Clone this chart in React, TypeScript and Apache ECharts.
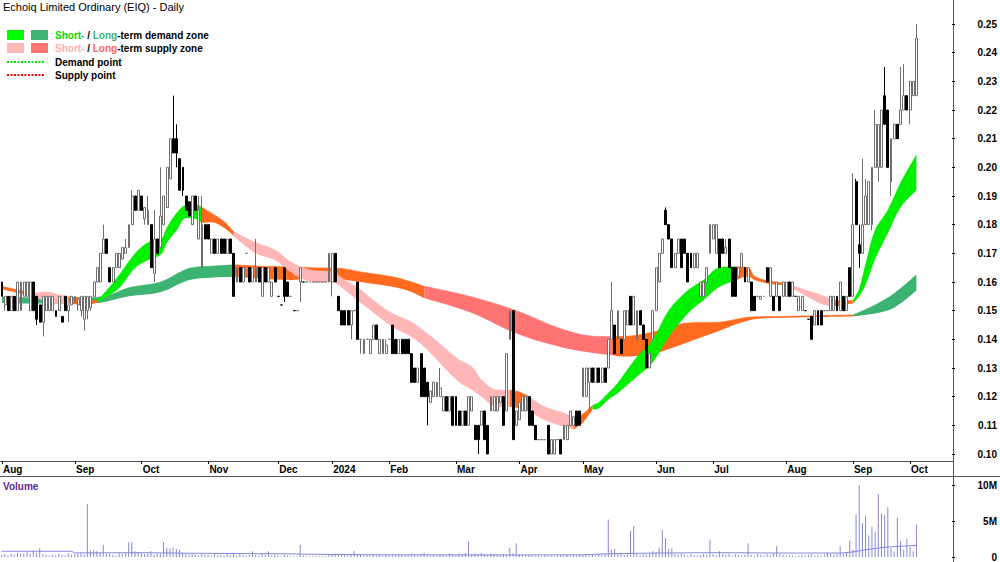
import React, { useEffect, useRef } from "react";
import * as echarts from "echarts";

// ---------- DATA ----------
const monthLabels = ["Aug", "Sep", "Oct", "Nov", "Dec", "2024", "Feb", "Mar", "Apr", "May", "Jun", "Jul", "Aug", "Sep", "Oct"];

// [open, close, low, high]
const candlesAug23 = [
  [0.160, 0.155, 0.155, 0.160], [0.152, 0.155, 0.150, 0.155], [0.155, 0.150, 0.150, 0.155], [0.150, 0.155, 0.150, 0.155],
  [0.155, 0.150, 0.150, 0.155], [0.150, 0.160, 0.150, 0.160], [0.150, 0.160, 0.150, 0.160], [0.155, 0.160, 0.155, 0.160],
  [0.155, 0.160, 0.155, 0.160], [0.150, 0.160, 0.150, 0.160], [0.160, 0.150, 0.150, 0.160], [0.155, 0.147, 0.145, 0.155],
  [0.152, 0.146, 0.146, 0.152], [0.146, 0.155, 0.141, 0.155], [0.150, 0.155, 0.150, 0.155], [0.150, 0.155, 0.150, 0.155],
  [0.150, 0.155, 0.150, 0.155], [0.150, 0.148, 0.148, 0.150], [0.150, 0.155, 0.150, 0.155], [0.148, 0.146, 0.146, 0.148],
  [0.155, 0.150, 0.150, 0.155], [0.150, 0.152, 0.146, 0.152], [0.152, 0.155, 0.152, 0.155],
];
const candlesSep23 = [
  [0.153, 0.155, 0.153, 0.155], [0.152, 0.154, 0.150, 0.154], [0.150, 0.155, 0.148, 0.155], [0.147, 0.155, 0.143, 0.155],
  [0.150, 0.155, 0.147, 0.155], [0.151, 0.155, 0.150, 0.155], [0.155, 0.160, 0.155, 0.160], [0.160, 0.165, 0.160, 0.165],
  [0.160, 0.170, 0.160, 0.170], [0.170, 0.175, 0.170, 0.180], [0.175, 0.170, 0.170, 0.175], [0.165, 0.160, 0.160, 0.165],
  [0.160, 0.165, 0.160, 0.165], [0.165, 0.170, 0.165, 0.170], [0.165, 0.170, 0.165, 0.170], [0.168, 0.172, 0.168, 0.172],
  [0.170, 0.172, 0.170, 0.175], [0.172, 0.180, 0.172, 0.180], [0.180, 0.190, 0.180, 0.192], [0.190, 0.185, 0.185, 0.190],
  [0.185, 0.192, 0.185, 0.192],
];
const candlesOct23 = [
  [0.190, 0.185, 0.185, 0.190], [0.182, 0.186, 0.180, 0.186], [0.180, 0.185, 0.180, 0.190], [0.180, 0.165, 0.165, 0.180],
  [0.163, 0.175, 0.160, 0.185], [0.175, 0.170, 0.170, 0.175], [0.172, 0.183, 0.172, 0.200], [0.180, 0.190, 0.180, 0.190],
  [0.186, 0.200, 0.186, 0.200], [0.196, 0.210, 0.196, 0.210], [0.210, 0.205, 0.205, 0.225], [0.210, 0.205, 0.200, 0.215],
  [0.203, 0.192, 0.192, 0.203], [0.200, 0.192, 0.190, 0.200], [0.190, 0.185, 0.185, 0.190], [0.188, 0.183, 0.183, 0.188],
  [0.180, 0.190, 0.180, 0.190], [0.190, 0.185, 0.185, 0.190], [0.175, 0.185, 0.175, 0.190], [0.165, 0.180, 0.165, 0.190],
  [0.180, 0.175, 0.175, 0.180],
];
const candlesNov23 = [
  [0.180, 0.175, 0.175, 0.180], [0.170, 0.175, 0.170, 0.175], [0.175, 0.170, 0.170, 0.175], [0.170, 0.175, 0.170, 0.175],
  [0.175, 0.170, 0.170, 0.175], [0.175, 0.170, 0.170, 0.175], [0.170, 0.175, 0.170, 0.175], [0.175, 0.170, 0.170, 0.175],
  [0.170, 0.155, 0.155, 0.170], [0.160, 0.165, 0.160, 0.165], [0.165, 0.160, 0.160, 0.165], [0.160, 0.165, 0.160, 0.165],
  [0.170, 0.170, 0.170, 0.170], [0.165, 0.160, 0.160, 0.165], [0.160, 0.165, 0.160, 0.165], [0.160, 0.165, 0.160, 0.175],
  [0.165, 0.160, 0.160, 0.165], [0.155, 0.165, 0.155, 0.165], [0.165, 0.160, 0.160, 0.165], [0.160, 0.165, 0.160, 0.165],
  [0.155, 0.160, 0.155, 0.160], [0.165, 0.160, 0.160, 0.165],
];
const candlesDec23 = [
  [0.155, 0.155, 0.155, 0.155], [0.152, 0.152, 0.152, 0.152], [0.165, 0.155, 0.153, 0.165], [0.160, 0.155, 0.155, 0.160],
  [0.155, 0.155, 0.155, 0.155], [0.150, 0.150, 0.150, 0.150], [0.150, 0.150, 0.150, 0.150], [0.160, 0.165, 0.153, 0.165],
  [0.160, 0.160, 0.160, 0.160], [0.160, 0.160, 0.160, 0.160], [0.160, 0.160, 0.160, 0.160], [0.160, 0.160, 0.160, 0.160],
  [0.160, 0.160, 0.160, 0.160], [0.160, 0.160, 0.160, 0.160], [0.160, 0.160, 0.160, 0.160], [0.160, 0.160, 0.160, 0.160],
  [0.160, 0.170, 0.160, 0.170],
];
const candlesJan24 = [
  [0.160, 0.170, 0.155, 0.170], [0.170, 0.160, 0.160, 0.170], [0.155, 0.150, 0.150, 0.155], [0.150, 0.145, 0.145, 0.150],
  [0.150, 0.145, 0.145, 0.150], [0.150, 0.145, 0.145, 0.150], [0.145, 0.150, 0.140, 0.150], [0.150, 0.150, 0.150, 0.150],
  [0.160, 0.140, 0.140, 0.160], [0.140, 0.140, 0.135, 0.140], [0.135, 0.140, 0.135, 0.140], [0.140, 0.140, 0.140, 0.140],
  [0.135, 0.140, 0.135, 0.140], [0.140, 0.145, 0.140, 0.145], [0.145, 0.140, 0.140, 0.145], [0.135, 0.140, 0.135, 0.140],
  [0.135, 0.140, 0.135, 0.140], [0.135, 0.138, 0.135, 0.140],
];
const candlesFeb24 = [
  [0.140, 0.140, 0.140, 0.140], [0.145, 0.135, 0.135, 0.145], [0.140, 0.135, 0.135, 0.140], [0.135, 0.140, 0.135, 0.140],
  [0.140, 0.135, 0.135, 0.140], [0.140, 0.135, 0.135, 0.140], [0.140, 0.135, 0.135, 0.140], [0.135, 0.125, 0.125, 0.135],
  [0.130, 0.125, 0.125, 0.130], [0.125, 0.130, 0.125, 0.130], [0.135, 0.120, 0.120, 0.135], [0.130, 0.120, 0.120, 0.130],
  [0.125, 0.120, 0.110, 0.125], [0.118, 0.122, 0.118, 0.122], [0.120, 0.125, 0.120, 0.125], [0.120, 0.125, 0.120, 0.125],
  [0.120, 0.123, 0.120, 0.130], [0.115, 0.120, 0.115, 0.120], [0.120, 0.115, 0.115, 0.120], [0.115, 0.120, 0.115, 0.120],
  [0.120, 0.110, 0.110, 0.120],
];
const candlesMar24 = [
  [0.120, 0.110, 0.110, 0.120], [0.115, 0.110, 0.110, 0.115], [0.110, 0.115, 0.110, 0.115], [0.115, 0.110, 0.110, 0.115],
  [0.110, 0.120, 0.110, 0.120], [0.115, 0.120, 0.115, 0.120], [0.110, 0.105, 0.105, 0.110], [0.110, 0.105, 0.100, 0.110],
  [0.110, 0.115, 0.110, 0.115], [0.115, 0.105, 0.105, 0.115], [0.110, 0.100, 0.100, 0.110], [0.115, 0.120, 0.115, 0.120],
  [0.115, 0.120, 0.115, 0.120], [0.115, 0.120, 0.115, 0.120], [0.118, 0.120, 0.118, 0.120], [0.120, 0.110, 0.110, 0.120],
  [0.115, 0.135, 0.115, 0.135], [0.140, 0.150, 0.140, 0.150], [0.150, 0.105, 0.105, 0.150], [0.110, 0.115, 0.110, 0.115],
];
const candlesApr24 = [
  [0.112, 0.118, 0.112, 0.118], [0.115, 0.120, 0.115, 0.120], [0.115, 0.120, 0.115, 0.120], [0.120, 0.110, 0.110, 0.120],
  [0.115, 0.110, 0.110, 0.115], [0.110, 0.105, 0.105, 0.110], [0.105, 0.105, 0.105, 0.105], [0.105, 0.105, 0.105, 0.105],
  [0.105, 0.105, 0.105, 0.105], [0.110, 0.100, 0.100, 0.110], [0.100, 0.105, 0.100, 0.105], [0.100, 0.105, 0.100, 0.105],
  [0.105, 0.105, 0.105, 0.105], [0.105, 0.100, 0.100, 0.105], [0.105, 0.110, 0.105, 0.110], [0.105, 0.110, 0.105, 0.110],
  [0.110, 0.115, 0.110, 0.115], [0.110, 0.113, 0.110, 0.113], [0.115, 0.110, 0.110, 0.115], [0.115, 0.110, 0.110, 0.115],
];
const candlesMay24 = [
  [0.120, 0.130, 0.120, 0.130], [0.120, 0.130, 0.120, 0.130], [0.125, 0.130, 0.115, 0.130], [0.130, 0.125, 0.125, 0.130],
  [0.125, 0.130, 0.125, 0.130], [0.130, 0.125, 0.125, 0.130], [0.125, 0.130, 0.125, 0.130], [0.130, 0.125, 0.125, 0.130],
  [0.130, 0.140, 0.130, 0.140], [0.140, 0.150, 0.140, 0.160], [0.145, 0.135, 0.135, 0.145], [0.140, 0.150, 0.140, 0.150],
  [0.140, 0.135, 0.135, 0.140], [0.140, 0.150, 0.140, 0.150], [0.145, 0.150, 0.145, 0.150], [0.155, 0.145, 0.145, 0.155],
  [0.145, 0.155, 0.145, 0.155], [0.140, 0.150, 0.140, 0.150], [0.150, 0.145, 0.145, 0.150], [0.145, 0.140, 0.140, 0.145],
  [0.140, 0.130, 0.130, 0.140], [0.130, 0.135, 0.130, 0.135], [0.140, 0.150, 0.140, 0.150],
];
const candlesJun24 = [
  [0.150, 0.165, 0.150, 0.165], [0.160, 0.170, 0.160, 0.170], [0.170, 0.175, 0.170, 0.175], [0.185, 0.180, 0.180, 0.186],
  [0.180, 0.175, 0.175, 0.180], [0.175, 0.165, 0.165, 0.175], [0.165, 0.170, 0.165, 0.170], [0.170, 0.175, 0.170, 0.175],
  [0.175, 0.165, 0.165, 0.175], [0.175, 0.170, 0.170, 0.175], [0.170, 0.160, 0.160, 0.170], [0.170, 0.165, 0.165, 0.170],
  [0.165, 0.170, 0.165, 0.170], [0.165, 0.170, 0.165, 0.170], [0.155, 0.160, 0.155, 0.160], [0.155, 0.160, 0.155, 0.160],
  [0.160, 0.165, 0.160, 0.165], [0.170, 0.180, 0.170, 0.180],
];
const candlesJul24 = [
  [0.175, 0.180, 0.175, 0.180], [0.170, 0.180, 0.170, 0.180], [0.175, 0.165, 0.165, 0.175], [0.175, 0.170, 0.170, 0.175],
  [0.170, 0.172, 0.170, 0.175], [0.175, 0.165, 0.165, 0.175], [0.165, 0.155, 0.155, 0.165], [0.165, 0.155, 0.155, 0.165],
  [0.162, 0.165, 0.162, 0.165], [0.165, 0.170, 0.165, 0.170], [0.165, 0.160, 0.160, 0.165], [0.160, 0.165, 0.160, 0.165],
  [0.160, 0.150, 0.150, 0.160], [0.155, 0.150, 0.150, 0.155], [0.155, 0.155, 0.155, 0.155], [0.154, 0.155, 0.154, 0.155],
  [0.155, 0.155, 0.155, 0.155], [0.165, 0.160, 0.160, 0.165], [0.155, 0.165, 0.155, 0.165], [0.155, 0.150, 0.150, 0.155],
  [0.155, 0.160, 0.155, 0.160], [0.155, 0.150, 0.150, 0.155], [0.155, 0.160, 0.155, 0.160],
];
const candlesAug24 = [
  [0.155, 0.160, 0.155, 0.160], [0.160, 0.155, 0.155, 0.160], [0.155, 0.160, 0.155, 0.160], [0.155, 0.155, 0.155, 0.155],
  [0.150, 0.155, 0.150, 0.155], [0.150, 0.155, 0.150, 0.155], [0.150, 0.150, 0.150, 0.150], [0.147, 0.147, 0.147, 0.147],
  [0.148, 0.140, 0.140, 0.148], [0.145, 0.150, 0.145, 0.150], [0.150, 0.145, 0.145, 0.150], [0.150, 0.145, 0.145, 0.150],
  [0.150, 0.150, 0.150, 0.150], [0.150, 0.150, 0.150, 0.150], [0.150, 0.155, 0.150, 0.155], [0.150, 0.155, 0.150, 0.155],
  [0.155, 0.150, 0.150, 0.155], [0.150, 0.160, 0.150, 0.160], [0.155, 0.150, 0.150, 0.155], [0.150, 0.155, 0.150, 0.155],
  [0.165, 0.155, 0.155, 0.165],
];
const candlesSep24 = [
  [0.155, 0.180, 0.155, 0.198], [0.195, 0.180, 0.180, 0.196], [0.173, 0.170, 0.165, 0.180], [0.170, 0.180, 0.170, 0.203],
  [0.180, 0.190, 0.180, 0.196], [0.180, 0.195, 0.180, 0.195], [0.180, 0.200, 0.178, 0.200], [0.200, 0.215, 0.200, 0.220],
  [0.200, 0.215, 0.195, 0.215], [0.200, 0.220, 0.200, 0.220], [0.225, 0.215, 0.215, 0.235], [0.220, 0.200, 0.200, 0.220],
  [0.195, 0.210, 0.190, 0.210], [0.210, 0.215, 0.210, 0.215], [0.215, 0.210, 0.210, 0.215], [0.215, 0.220, 0.215, 0.235],
  [0.220, 0.225, 0.220, 0.236], [0.225, 0.220, 0.220, 0.225],
];
const candlesOct24 = [
  [0.220, 0.230, 0.215, 0.230], [0.225, 0.230, 0.225, 0.230], [0.225, 0.245, 0.225, 0.250],
];

// volume in millions of shares, per session
const volAug23 = [0.3, 0.4, 0.2, 0.5, 0.3, 0.6, 0.4, 0.5, 0.7, 0.5, 0.9, 0.6, 1.2, 0.4, 0.3, 0.2, 0.3, 0.2, 0.4, 0.3, 0.2, 0.5, 0.3];
const volSep23 = [0.4, 0.5, 0.6, 0.3, 7.4, 0.9, 1.0, 0.8, 0.6, 1.7, 0.5, 0.4, 0.3, 0.2, 0.6, 0.4, 0.5, 2.0, 2.1, 0.8, 0.6];
const volOct23 = [0.6, 0.4, 0.5, 0.8, 0.3, 0.5, 0.4, 2.1, 1.3, 1.2, 1.3, 1.1, 1.0, 0.6, 0.4, 0.3, 0.5, 0.3, 0.2, 0.4, 0.3];
const volNov23 = [0.3, 0.2, 0.4, 0.2, 0.3, 0.2, 0.5, 0.3, 0.6, 0.2, 0.4, 0.3, 0.2, 0.3, 0.8, 0.3, 0.2, 0.4, 0.3, 0.8, 0.2, 0.3];
const volDec23 = [0.2, 0.1, 0.3, 0.2, 0.1, 0.1, 0.1, 1.7, 0.2, 0.1, 0.1, 0.1, 0.1, 0.1, 0.1, 0.1, 0.3];
const volJan24 = [0.4, 0.5, 0.3, 0.4, 0.3, 0.2, 0.3, 0.8, 0.3, 0.4, 0.2, 0.3, 0.2, 0.3, 0.2, 0.4, 0.2, 0.3];
const volFeb24 = [0.2, 0.3, 0.2, 0.4, 0.3, 0.2, 0.3, 0.5, 0.3, 0.2, 0.4, 0.6, 0.3, 0.2, 0.3, 0.2, 0.4, 0.3, 0.2, 0.5, 0.3];
const volMar24 = [0.3, 0.5, 0.4, 0.6, 2.2, 0.4, 0.5, 0.3, 0.6, 0.4, 0.3, 0.5, 0.4, 0.3, 0.2, 0.4, 0.3, 1.3, 0.5, 1.9];
const volApr24 = [0.4, 0.3, 0.2, 0.3, 0.2, 0.1, 0.2, 0.1, 0.3, 0.2, 0.2, 0.1, 0.2, 0.3, 0.2, 0.3, 0.2, 0.3, 0.2, 0.4];
const volMay24 = [0.3, 0.4, 0.2, 0.3, 0.2, 0.4, 0.3, 0.5, 5.2, 1.0, 1.1, 0.4, 0.6, 0.3, 0.5, 3.6, 4.3, 0.5, 0.3, 0.4, 0.3, 0.5, 0.8];
const volJun24 = [0.6, 1.2, 3.8, 2.6, 1.1, 1.2, 0.4, 0.3, 0.5, 0.3, 0.2, 0.4, 0.3, 0.2, 0.3, 0.4, 0.3, 2.4];
const volJul24 = [0.4, 0.3, 0.8, 0.4, 0.3, 0.5, 0.2, 0.4, 0.3, 0.2, 0.3, 1.9, 0.3, 0.2, 0.4, 0.3, 0.2, 0.4, 0.3, 0.5, 1.5, 0.4, 0.3];
const volAug24 = [0.2, 0.3, 0.2, 0.1, 0.2, 0.3, 0.2, 0.3, 0.4, 0.2, 0.3, 0.2, 0.3, 0.6, 0.4, 0.3, 0.5, 1.5, 0.4, 0.6, 2.3];
const volSep24 = [1.0, 5.9, 10.0, 4.7, 5.7, 3.0, 4.2, 3.5, 8.8, 6.0, 5.8, 6.9, 1.2, 0.8, 5.4, 2.2, 1.0, 2.5];
const volOct24 = [1.4, 0.8, 4.5];

// volume average (session index, millions)
const volumeAverage = [
  [0, 0.8], [22, 0.8], [23, 0.57], [44, 0.6], [65, 0.5], [87, 0.45], [104, 0.35], [122, 0.3], [163, 0.28],
  [183, 0.3], [191, 0.45], [206, 0.55], [224, 0.6], [247, 0.55], [264, 0.55], [268, 0.7], [272, 1.0],
  [277, 1.3], [283, 1.5], [288, 1.6],
];

// zones: [session index, lower, upper]
const shortTermZones = [
  { kind: "neutral", pts: [[0, 0.1575, 0.1585], [5, 0.1562, 0.1572], [10, 0.155, 0.156]] },
  { kind: "supply", pts: [[10, 0.155, 0.156], [14, 0.153, 0.1565], [18, 0.1525, 0.1555], [21, 0.1525, 0.155]] },
  { kind: "neutral", pts: [[21, 0.1525, 0.155], [26, 0.152, 0.154], [30, 0.1528, 0.1535]] },
  { kind: "demand", pts: [[30, 0.1528, 0.1535], [33, 0.1548, 0.157], [37, 0.158, 0.1625], [42, 0.165, 0.17], [46, 0.1677, 0.1737], [50, 0.1695, 0.1747], [52, 0.1737, 0.179], [55, 0.178, 0.184], [58, 0.1823, 0.1868], [61, 0.182, 0.187], [63, 0.1806, 0.186]] },
  { kind: "neutral", pts: [[63, 0.1806, 0.186], [66, 0.1808, 0.184], [70, 0.1788, 0.181], [73, 0.176, 0.1775]] },
  { kind: "supply", pts: [[73, 0.176, 0.1775], [80, 0.17, 0.1737], [86, 0.1677, 0.1712], [90, 0.1642, 0.1677], [94, 0.1614, 0.1653], [98, 0.16, 0.164], [104, 0.16, 0.1635], [107, 0.158, 0.1614], [113, 0.1527, 0.1572], [118, 0.1485, 0.1527], [123, 0.1443, 0.149], [129, 0.1408, 0.146], [134, 0.1363, 0.142], [139, 0.1304, 0.1374], [144, 0.125, 0.1328], [148, 0.1223, 0.1304], [151, 0.12, 0.1258], [156, 0.1164, 0.1223], [160, 0.1165, 0.1223]] },
  { kind: "neutral", pts: [[160, 0.1165, 0.1223], [163, 0.116, 0.1216], [166, 0.115, 0.12]] },
  { kind: "supply", pts: [[166, 0.115, 0.12], [171, 0.1118, 0.1164], [177, 0.1095, 0.1143], [180, 0.1085, 0.1125]] },
  { kind: "neutral", pts: [[180, 0.1085, 0.1125], [183, 0.111, 0.114], [186, 0.1155, 0.117]] },
  { kind: "demand", pts: [[186, 0.1155, 0.117], [188, 0.116, 0.118], [191, 0.119, 0.1213], [194, 0.1213, 0.1248], [200, 0.127, 0.1338], [205, 0.132, 0.1398], [210, 0.1408, 0.15], [216, 0.149, 0.157], [221, 0.1537, 0.1607], [226, 0.1583, 0.165], [231, 0.1605, 0.1653]] },
  { kind: "neutral", pts: [[231, 0.1605, 0.1653], [235, 0.162, 0.165], [237, 0.1607, 0.162], [241, 0.1595, 0.1605], [247, 0.1588, 0.1595]] },
  { kind: "supply", pts: [[247, 0.1588, 0.1595], [251, 0.1565, 0.158], [255, 0.154, 0.1565], [259, 0.152, 0.155], [262, 0.1515, 0.1537]] },
  { kind: "neutral", pts: [[262, 0.1515, 0.1537], [265, 0.152, 0.1535], [268, 0.1525, 0.1535]] },
  { kind: "demand", pts: [[268, 0.1525, 0.1535], [270, 0.155, 0.1575], [272, 0.159, 0.166], [275, 0.168, 0.178], [279, 0.177, 0.185], [283, 0.186, 0.1945], [288, 0.192, 0.2043]] },
];
const longTermZones = [
  { kind: "demand", pts: [[0, 0.1527, 0.1548], [11, 0.1525, 0.1545], [30, 0.1527, 0.1547], [34, 0.1535, 0.1555], [40, 0.155, 0.158], [50, 0.1565, 0.16], [59, 0.1607, 0.1648], [66, 0.1615, 0.1655], [73, 0.1618, 0.166]] },
  { kind: "neutral", pts: [[73, 0.1618, 0.166], [82, 0.1612, 0.1655], [91, 0.1607, 0.1653], [97, 0.1615, 0.165], [106, 0.161, 0.1648], [113, 0.16, 0.1635], [123, 0.1583, 0.1618], [129, 0.1565, 0.16], [133, 0.1543, 0.1585]] },
  { kind: "supply", pts: [[133, 0.1543, 0.1585], [148, 0.1492, 0.1548], [162, 0.142, 0.15], [177, 0.137, 0.1433], [188, 0.135, 0.141], [192, 0.1345, 0.141]] },
  { kind: "neutral", pts: [[192, 0.1345, 0.141], [195, 0.134, 0.141], [205, 0.135, 0.1425], [216, 0.139, 0.1457], [226, 0.143, 0.146], [236, 0.1468, 0.1478], [245, 0.1475, 0.148], [268, 0.148, 0.1485]] },
  { kind: "demand", pts: [[268, 0.148, 0.1485], [275, 0.149, 0.152], [281, 0.151, 0.156], [288, 0.157, 0.1625]] },
];

// ---------- STYLE ----------
const FONT = 'Arial, "Liberation Sans", sans-serif';
const zoneColors: Record<string, Record<string, string>> = {
  st: { demand: "#00f000", supply: "#ffb6b6", neutral: "#ff6a1f" },
  lt: { demand: "#3cb371", supply: "#ff7373", neutral: "#ff6a1f" },
};
const VOL_COLOR = "#8787d8";

const monthCandles = [candlesAug23, candlesSep23, candlesOct23, candlesNov23, candlesDec23, candlesJan24, candlesFeb24, candlesMar24, candlesApr24, candlesMay24, candlesJun24, candlesJul24, candlesAug24, candlesSep24, candlesOct24];
const monthVolumes = [volAug23, volSep23, volOct23, volNov23, volDec23, volJan24, volFeb24, volMar24, volApr24, volMay24, volJun24, volJul24, volAug24, volSep24, volOct24];

function buildOption() {
  const categories: string[] = [];
  const labelAt: Record<number, string> = {};
  const candles: number[][] = [];
  const volumes: number[] = [];
  monthCandles.forEach((arr, mi) => {
    arr.forEach((c, k) => {
      if (k === 0) labelAt[categories.length] = monthLabels[mi];
      categories.push(`${mi}-${k}`);
      candles.push(c);
      volumes.push(monthVolumes[mi][k] ?? 0);
    });
  });
  const isMonthStart = (i: number) => labelAt[i] !== undefined;

  const bandSeries: any[] = [];
  const addBands = (zones: any[], key: string, z: number) => {
    zones.forEach((zone, i) => {
      const color = zoneColors[key][zone.kind];
      const stack = `${key}${i}`;
      bandSeries.push({
        type: "line", xAxisIndex: 0, yAxisIndex: 0, stack, z, silent: true, smooth: 0.35,
        symbol: "none", lineStyle: { width: 0, opacity: 0 },
        data: zone.pts.map((p: number[]) => [p[0], p[1]]),
      });
      bandSeries.push({
        type: "line", xAxisIndex: 0, yAxisIndex: 0, stack, z, silent: true, smooth: 0.35,
        symbol: "none", lineStyle: { width: 0.6, color },
        areaStyle: { color, opacity: 1 },
        data: zone.pts.map((p: number[]) => [p[0], +(p[2] - p[1]).toFixed(5)]),
      });
    });
  };
  addBands(longTermZones, "lt", 1);
  addBands(shortTermZones, "st", 2);

  const axisText = { fontFamily: FONT, fontSize: 10, fontWeight: "bold" as const, color: "#000" };

  return {
    animation: false,
    backgroundColor: "#ffffff",
    grid: [
      { left: 0, top: 24, width: 919, height: 430 },
      { left: 0, top: 485, width: 919, height: 76 },
    ],
    xAxis: [
      {
        type: "category", gridIndex: 0, data: categories, boundaryGap: true, position: "bottom", offset: 7,
        axisLine: { show: false },
        axisTick: { show: true, interval: (i: number) => isMonthStart(i), alignWithLabel: true, length: 3, lineStyle: { color: "#000" } },
        axisLabel: { ...axisText, interval: (i: number) => isMonthStart(i), formatter: (_v: string, i: number) => labelAt[i] ?? "", align: "left", margin: 3, padding: [0, 0, 0, 1] },
        splitLine: { show: false },
      },
      {
        type: "category", gridIndex: 1, data: categories, boundaryGap: true,
        axisLine: { show: false }, axisTick: { show: false }, axisLabel: { show: false }, splitLine: { show: false },
      },
    ],
    yAxis: [
      {
        type: "value", gridIndex: 0, position: "right", offset: 34, min: 0.1, max: 0.25, interval: 0.01,
        axisLine: { show: false },
        axisTick: { show: true, length: 3, lineStyle: { color: "#000" } },
        axisLabel: { ...axisText, align: "right", margin: 45, formatter: (v: number) => v.toFixed(2) },
        splitLine: { show: false },
      },
      {
        type: "value", gridIndex: 1, position: "right", offset: 34, min: 0, max: 10, interval: 5,
        axisLine: { show: false },
        axisTick: { show: true, length: 3, lineStyle: { color: "#000" } },
        axisLabel: { ...axisText, align: "right", margin: 45, formatter: (v: number) => (v === 0 ? "0" : `${v}M`) },
        splitLine: { show: false },
      },
    ],
    series: [
      ...bandSeries,
      {
        type: "candlestick", xAxisIndex: 0, yAxisIndex: 0, z: 5, barWidth: 2.4, clip: false, silent: true,
        itemStyle: { color: "#ffffff", color0: "#000000", borderColor: "#6f6f6f", borderColor0: "#000000", borderWidth: 1 },
        data: candles,
      },
      {
        type: "bar", xAxisIndex: 1, yAxisIndex: 1, barWidth: 1, silent: true,
        itemStyle: { color: VOL_COLOR }, data: volumes,
      },
      {
        type: "line", xAxisIndex: 1, yAxisIndex: 1, silent: true, symbol: "none",
        lineStyle: { color: VOL_COLOR, width: 1 }, data: volumeAverage,
      },
    ],
    graphic: {
      elements: [
        { type: "line", shape: { x1: 953.5, y1: 0, x2: 953.5, y2: 562 }, style: { stroke: "#555", lineWidth: 1 }, silent: true },
        { type: "line", shape: { x1: 0, y1: 461.5, x2: 953.5, y2: 461.5 }, style: { stroke: "#555", lineWidth: 1 }, silent: true },
        { type: "line", shape: { x1: 0, y1: 476.5, x2: 1000, y2: 476.5 }, style: { stroke: "#555", lineWidth: 1 }, silent: true },
        { type: "text", x: 3, y: 1, style: { text: "Echoiq Limited Ordinary (EIQ) - Daily", font: `11px ${FONT}`, fill: "#000", verticalAlign: "top" }, silent: true },
        { type: "rect", shape: { x: 7, y: 30, width: 17, height: 10 }, style: { fill: "#00ff00" }, silent: true },
        { type: "rect", shape: { x: 31, y: 30, width: 17, height: 10 }, style: { fill: "#3cb371" }, silent: true },
        { type: "rect", shape: { x: 7, y: 43, width: 17, height: 10 }, style: { fill: "#ffb6b6" }, silent: true },
        { type: "rect", shape: { x: 31, y: 43, width: 17, height: 10 }, style: { fill: "#ff7373" }, silent: true },
        {
          type: "text", x: 55, y: 35, silent: true,
          style: {
            text: "{a|Short-}{k| / }{b|Long}{k|-term demand zone}", verticalAlign: "middle", font: `bold 10px ${FONT}`,
            rich: {
              a: { fill: "#00dd00", font: `bold 10px ${FONT}` },
              b: { fill: "#3cb371", font: `bold 10px ${FONT}` },
              k: { fill: "#000", font: `bold 10px ${FONT}` },
            },
          },
        },
        {
          type: "text", x: 55, y: 48, silent: true,
          style: {
            text: "{a|Short-}{k| / }{b|Long}{k|-term supply zone}", verticalAlign: "middle", font: `bold 10px ${FONT}`,
            rich: {
              a: { fill: "#ffb0b0", font: `bold 10px ${FONT}` },
              b: { fill: "#ff6464", font: `bold 10px ${FONT}` },
              k: { fill: "#000", font: `bold 10px ${FONT}` },
            },
          },
        },
        { type: "line", shape: { x1: 7, y1: 62, x2: 45, y2: 62 }, style: { stroke: "#00e000", lineWidth: 2, lineDash: [2, 1.5] }, silent: true },
        { type: "line", shape: { x1: 7, y1: 75, x2: 45, y2: 75 }, style: { stroke: "#ff0000", lineWidth: 2, lineDash: [2, 1.5] }, silent: true },
        { type: "text", x: 55, y: 62, style: { text: "Demand point", font: `bold 10px ${FONT}`, fill: "#000", verticalAlign: "middle" }, silent: true },
        { type: "text", x: 55, y: 75, style: { text: "Supply point", font: `bold 10px ${FONT}`, fill: "#000", verticalAlign: "middle" }, silent: true },
        { type: "text", x: 3, y: 486, style: { text: "Volume", font: `bold 10px ${FONT}`, fill: "#5b2a90", verticalAlign: "middle" }, silent: true },
      ],
    },
  };
}

export default function App() {
  const ref = useRef<HTMLDivElement>(null);
  useEffect(() => {
    if (!ref.current) return;
    const chart = echarts.init(ref.current, null, { renderer: "svg" });
    chart.setOption(buildOption() as any);
    return () => chart.dispose();
  }, []);
  return (
    <div
      ref={ref}
      style={{ position: "fixed", left: 0, top: 0, width: 1000, height: 562, background: "#ffffff" }}
    />
  );
}
